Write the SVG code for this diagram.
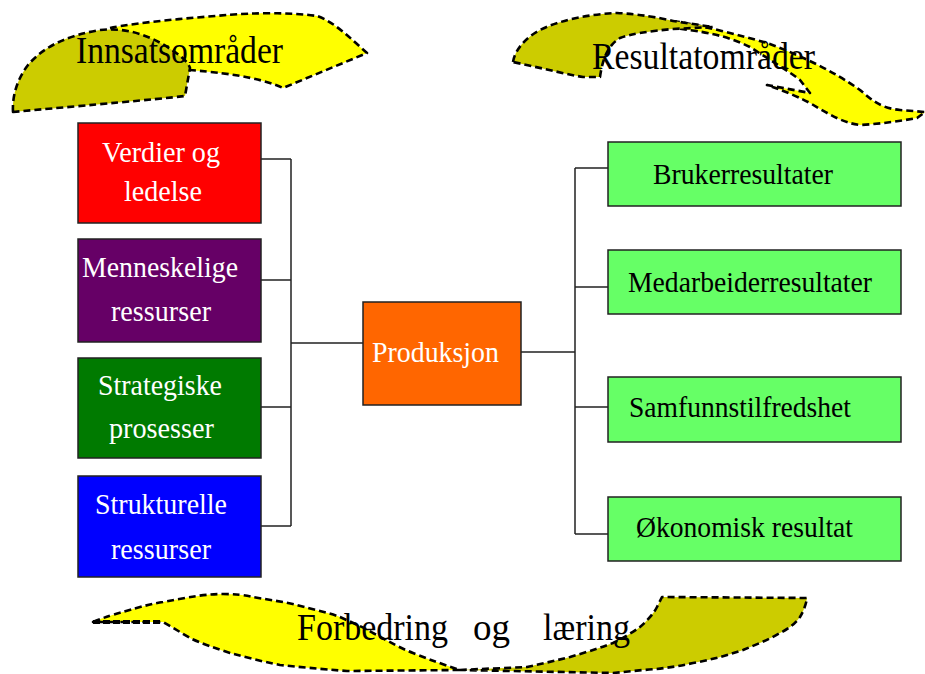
<svg xmlns="http://www.w3.org/2000/svg" width="925" height="674" viewBox="0 0 925 674">
<style>
.blobY{fill:#ffff00;stroke:#000;stroke-width:2.6;stroke-dasharray:7 4;stroke-linejoin:round}
.blobD{fill:#cccc00;stroke:#000;stroke-width:2.6;stroke-dasharray:7 4;stroke-linejoin:round}
.box{stroke:#222;stroke-width:1.5}
.conn{stroke:#222;stroke-width:1.5;fill:none}
.wt{font-family:"Liberation Serif","Times New Roman",serif;font-size:29px;fill:#ffffff}
.bt{font-family:"Liberation Serif","Times New Roman",serif;font-size:29px;fill:#000000}
.ht{font-family:"Liberation Serif","Times New Roman",serif;font-size:38px;fill:#000000}
</style>
<rect width="925" height="674" fill="#ffffff"/>

<g id="blob-innsats">
<path class="blobY" d="M110,28 C140,22 190,18 227,15 C250,13 290,12 317,16 C335,22 352,40 367,53 L283,88 C265,80 240,74 190,70 Z"/>
<path class="blobD" d="M13,112 C12,95 18,78 28,65 C45,45 70,35 100,30 C125,27 150,35 172,50 C182,57 188,62 190,68 L185,96 C150,100 100,104 13,112 Z"/>
<text class="ht" x="76" y="63" textLength="207" lengthAdjust="spacingAndGlyphs">Innsatsområder</text>
</g>

<g id="blob-resultat">
<path class="blobY" d="M673,21 C700,25 740,35 767,43 C800,55 835,72 860,90 C872,100 880,108 900,110 L925,112 L917,118 C900,121 880,124 860,125 C845,123 835,118 810,103 C800,98 790,93 767,85 L810,93 L800,80 C790,72 770,60 750,47 C735,40 720,33 673,28 Z"/>
<path class="blobD" d="M513,62 C515,50 525,38 540,30 C560,20 590,14 617,13 C640,14 660,18 673,21 L713,27 L673,29 C650,31 630,34 620,38 C610,44 603,55 600,77 L583,77 C570,75 550,70 513,62 Z"/>
<text class="ht" x="592" y="69" textLength="223" lengthAdjust="spacingAndGlyphs">Resultatområder</text>
</g>

<g id="blob-forbedring">
<path class="blobY" d="M93,622 C105,617 115,614 123,612 C140,607 150,604 163,602 C190,597 205,594 223,594 C235,594 245,595 253,597 C270,600 285,602 297,605 C315,610 330,613 340,617 C355,624 365,628 373,633 C390,642 400,648 413,653 C430,660 445,665 460,670 L347,671 C320,669 300,667 280,665 C260,661 245,657 230,653 C215,648 200,643 190,638 C180,632 170,626 163,622 Z"/>
<path d="M93,622 L163,622" fill="none" stroke="#000" stroke-width="4" stroke-dasharray="7 3"/>
<path class="blobD" d="M460,670 C480,669 505,668 527,667 C545,663 558,660 570,657 C590,651 600,648 613,643 C625,637 633,632 640,627 C648,620 654,613 657,607 L662,597 L807,598 C806,605 803,612 800,617 C795,624 788,629 780,633 C768,640 755,645 743,650 C725,656 710,660 693,663 C675,667 660,669 643,670 L613,673 Z"/>
<text class="ht" y="640"><tspan x="297" textLength="151" lengthAdjust="spacingAndGlyphs">Forbedring</tspan><tspan x="473" textLength="37" lengthAdjust="spacingAndGlyphs">og</tspan><tspan x="543" textLength="87" lengthAdjust="spacingAndGlyphs">læring</tspan></text>
</g>

<g id="connectors">
<path class="conn" d="M261,159 H291 M261,280 H291 M261,407 H291 M261,526 H291 M291,159 V526 M291,343 H363"/>
<path class="conn" d="M521,352 H575 M575,168 V534 M575,168 H608 M575,287 H608 M575,407 H608 M575,534 H608"/>
</g>

<g id="node-verdier">
<rect class="box" x="78" y="123" width="183" height="100" fill="#ff0000"/>
<text class="wt" x="102" y="162" textLength="118" lengthAdjust="spacingAndGlyphs">Verdier og</text>
<text class="wt" x="124" y="201" textLength="78" lengthAdjust="spacingAndGlyphs">ledelse</text>
</g>
<g id="node-menneskelige">
<rect class="box" x="78" y="239" width="183" height="103" fill="#660066"/>
<text class="wt" x="82" y="277" textLength="156" lengthAdjust="spacingAndGlyphs">Menneskelige</text>
<text class="wt" x="111" y="321" textLength="100" lengthAdjust="spacingAndGlyphs">ressurser</text>
</g>
<g id="node-strategiske">
<rect class="box" x="78" y="358" width="183" height="100" fill="#007a00"/>
<text class="wt" x="98" y="395" textLength="124" lengthAdjust="spacingAndGlyphs">Strategiske</text>
<text class="wt" x="109" y="438" textLength="105" lengthAdjust="spacingAndGlyphs">prosesser</text>
</g>
<g id="node-strukturelle">
<rect class="box" x="78" y="476" width="183" height="101" fill="#0000ff"/>
<text class="wt" x="95" y="514" textLength="132" lengthAdjust="spacingAndGlyphs">Strukturelle</text>
<text class="wt" x="111" y="559" textLength="100" lengthAdjust="spacingAndGlyphs">ressurser</text>
</g>
<g id="node-produksjon">
<rect class="box" x="363" y="302" width="158" height="103" fill="#ff6600"/>
<text class="wt" x="372" y="362" textLength="127" lengthAdjust="spacingAndGlyphs">Produksjon</text>
</g>
<g id="node-bruker">
<rect class="box" x="608" y="142" width="293" height="64" fill="#66ff66"/>
<text class="bt" x="653" y="184" textLength="180" lengthAdjust="spacingAndGlyphs">Brukerresultater</text>
</g>
<g id="node-medarbeider">
<rect class="box" x="608" y="250" width="293" height="64" fill="#66ff66"/>
<text class="bt" x="628" y="292" textLength="244" lengthAdjust="spacingAndGlyphs">Medarbeiderresultater</text>
</g>
<g id="node-samfunn">
<rect class="box" x="608" y="377" width="293" height="65" fill="#66ff66"/>
<text class="bt" x="629" y="417" textLength="222" lengthAdjust="spacingAndGlyphs">Samfunnstilfredshet</text>
</g>
<g id="node-okonomisk">
<rect class="box" x="608" y="497" width="293" height="64" fill="#66ff66"/>
<text class="bt" x="636" y="537" textLength="217" lengthAdjust="spacingAndGlyphs">Økonomisk resultat</text>
</g>
</svg>
